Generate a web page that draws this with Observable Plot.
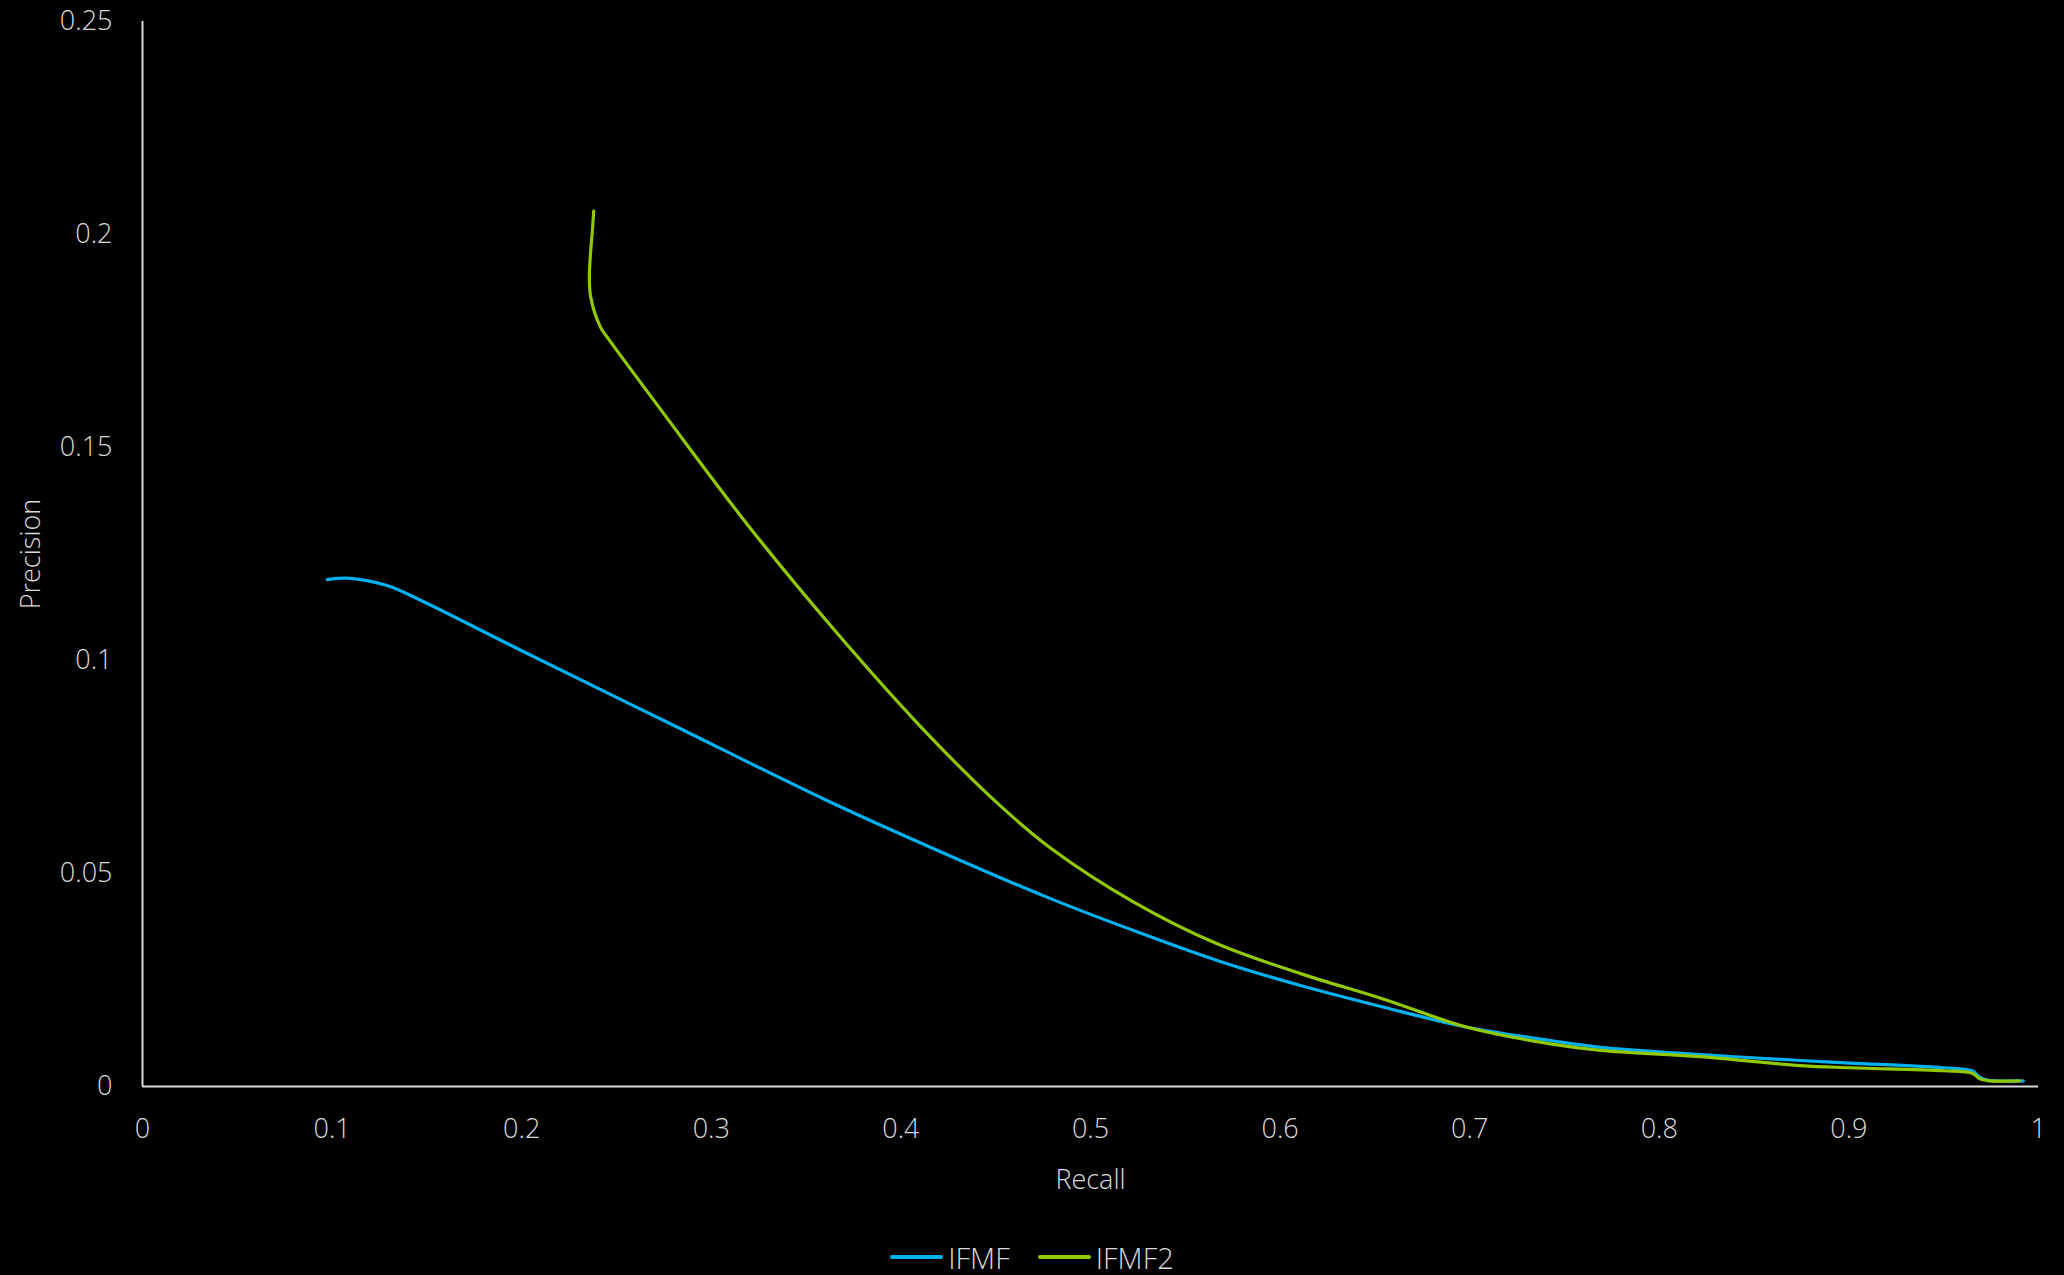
<!DOCTYPE html>
<html>
<head>
<meta charset="utf-8">
<script src="https://cdn.jsdelivr.net/npm/d3@7"></script>
<script src="https://cdn.jsdelivr.net/npm/@observablehq/plot@0.6"></script>
<style>
  html, body { margin: 0; padding: 0; background: #000; overflow: hidden; }
  #chart { width: 2064px; }
  #legend { width: 2064px; height: 74px; display: flex; justify-content: center; align-items: center;
            font-family: 'Open Sans', sans-serif; font-weight: 300; font-size: 29px; color: #d9d9d9; }
  .item { display: flex; align-items: center; margin: 0 14px; }
  .sw { width: 53px; height: 4px; border-radius: 2px; margin-right: 5px; }
</style>
</head>
<body>
<div id="chart"></div>
<div id="legend"></div>
<script>
const seriesNames = ["IFMF", "IFMF2"];
const seriesColors = ["#00b0f0", "#92c800"];

const recallIFMF = [0.0974, 0.1097, 0.129, 0.145, 0.2, 0.28, 0.3593, 0.42, 0.4789, 0.5228, 0.5668, 0.6108, 0.6547, 0.6987, 0.7426, 0.769, 0.8217, 0.8745, 0.9008, 0.95, 0.965, 0.969, 0.973, 0.992];
const precisionIFMF = [0.119, 0.1193, 0.1176, 0.1145, 0.1023, 0.0848, 0.0675, 0.0553, 0.0441, 0.0366, 0.0296, 0.0237, 0.0186, 0.0139, 0.0108, 0.0092, 0.0075, 0.0061, 0.0055, 0.0044, 0.0037, 0.0022, 0.0015, 0.0013];

const recallIFMF2 = [0.238, 0.2372, 0.2362, 0.2357, 0.2364, 0.2416, 0.2451, 0.275, 0.3189, 0.3629, 0.4068, 0.4473, 0.4789, 0.5228, 0.5668, 0.6108, 0.6547, 0.6987, 0.7426, 0.769, 0.8217, 0.8745, 0.9008, 0.95, 0.965, 0.969, 0.973, 0.99];
const precisionIFMF2 = [0.2055, 0.2005, 0.195, 0.19, 0.1853, 0.1782, 0.1759, 0.1579, 0.132, 0.1082, 0.0862, 0.068, 0.056, 0.0433, 0.0335, 0.0265, 0.0205, 0.0139, 0.0100, 0.0085, 0.007, 0.0049, 0.0044, 0.0037, 0.0031, 0.0018, 0.0014, 0.0013];

const xTicks = [0, 0.1, 0.2, 0.3, 0.4, 0.5, 0.6, 0.7, 0.8, 0.9, 1];
const yTicks = [0, 0.05, 0.1, 0.15, 0.2, 0.25];
const xLabel = "Recall";
const yLabel = "Precision";

const rows = [];
recallIFMF.forEach((r, i) => rows.push({series: seriesNames[0], recall: r, precision: precisionIFMF[i]}));
recallIFMF2.forEach((r, i) => rows.push({series: seriesNames[1], recall: r, precision: precisionIFMF2[i]}));

const fmt = d => String(+d.toFixed(2));

const chart = Plot.plot({
  width: 2064,
  height: 1220,
  marginLeft: 142,
  marginRight: 26,
  marginTop: 21,
  marginBottom: 134,
  style: {background: "#000", color: "#d9d9d9", fontSize: "27px", fontFamily: "'Open Sans', sans-serif", fontWeight: 300},
  x: {domain: [0, 1]},
  y: {domain: [0, 0.25]},
  color: {domain: seriesNames, range: seriesColors},
  marks: [
    Plot.axisX(xTicks, {tickSize: 0, tickPadding: 32, tickFormat: fmt, label: xLabel, labelAnchor: "center", labelOffset: 102, labelArrow: "none"}),
    Plot.axisY(yTicks, {tickSize: 0, tickPadding: 30, tickFormat: fmt, label: yLabel, labelAnchor: "center", labelOffset: 122, labelArrow: "none"}),
    Plot.ruleY([0], {stroke: "#d9d9d9", strokeWidth: 2}),
    Plot.ruleX([0], {stroke: "#d9d9d9", strokeWidth: 2}),
    Plot.line(rows, {x: "recall", y: "precision", z: "series", stroke: "series", strokeWidth: 3.2, curve: "catmull-rom", strokeLinecap: "round"})
  ]
});
document.getElementById("chart").appendChild(chart);

const legend = document.getElementById("legend");
seriesNames.forEach((n, i) => {
  const it = document.createElement("div");
  it.className = "item";
  const sw = document.createElement("div");
  sw.className = "sw";
  sw.style.background = seriesColors[i];
  const t = document.createElement("span");
  t.textContent = n;
  it.appendChild(sw); it.appendChild(t);
  legend.appendChild(it);
});
</script>
</body>
</html>
